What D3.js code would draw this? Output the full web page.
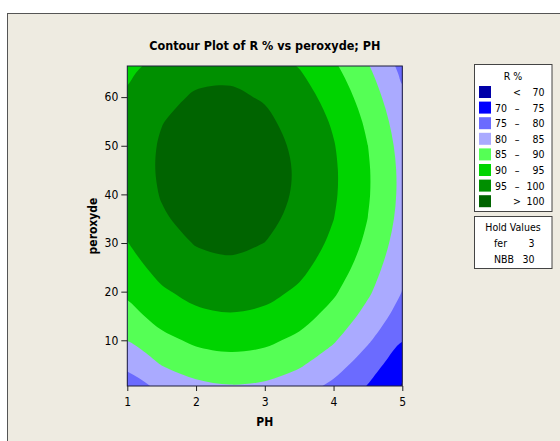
<!DOCTYPE html>
<html>
<head>
<meta charset="utf-8">
<script src="https://cdn.jsdelivr.net/npm/d3@7"></script>
<style>
  body { margin: 0; background: #fff; }
  svg { display: block; }
  text { font-family: "DejaVu Sans Condensed", "DejaVu Sans", sans-serif; fill: #000; }
</style>
</head>
<body>
<div id="chart"></div>
<script>

// grid of R %: columns = PH, rows = peroxyde
const phValues = [1, 1.5, 2, 2.5, 3, 3.5, 4, 4.5, 5];
const peroxydeValues = [0, 5, 10, 15, 20, 25, 30, 35, 40, 45, 50, 55, 60, 65, 70];
const rGrid = [
  [77.48, 80.80, 83.44, 84.31, 83.77, 81.81, 78.45, 74.40, 69.30],
  [81.00, 85.17, 87.39, 88.21, 87.62, 85.62, 82.20, 77.38, 72.00],
  [85.12, 88.71, 90.88, 91.65, 91.01, 88.96, 85.49, 80.62, 75.20],
  [88.25, 91.78, 93.91, 94.63, 93.94, 91.84, 88.33, 83.41, 77.80],
  [90.91, 94.40, 96.48, 97.15, 96.41, 94.26, 90.70, 85.73, 79.90],
  [93.12, 96.56, 98.59, 99.21, 98.42, 96.22, 92.61, 87.59, 81.16],
  [94.87, 98.26, 100.24, 100.81, 99.97, 97.72, 94.06, 88.99, 82.52],
  [96.16, 99.50, 101.43, 101.95, 101.06, 98.77, 95.06, 89.94, 83.41],
  [96.99, 100.28, 102.16, 102.63, 101.69, 99.35, 95.59, 90.42, 83.84],
  [97.35, 100.60, 102.43, 102.85, 101.87, 99.47, 95.66, 90.44, 83.82],
  [97.26, 100.46, 102.24, 102.61, 101.58, 99.13, 95.27, 90.01, 83.33],
  [96.71, 99.85, 101.59, 101.91, 100.83, 98.33, 94.43, 89.11, 82.39],
  [95.70, 98.79, 100.48, 100.75, 99.62, 97.07, 93.12, 87.75, 80.98],
  [94.23, 97.27, 98.91, 99.13, 97.95, 95.36, 91.35, 85.94, 79.11],
  [92.29, 95.29, 96.88, 97.05, 95.82, 93.18, 89.12, 83.66, 76.79]
];

const levels = [70, 75, 80, 85, 90, 95, 100];
const levelColors = ["#0000a8", "#0000ff", "#6b6bff", "#aaaaff", "#55ff55", "#00d400", "#008f00", "#006400"];
const legendFrom = ["", "70", "75", "80", "85", "90", "95", ""];
const legendSign = ["<", "\u2013", "\u2013", "\u2013", "\u2013", "\u2013", "\u2013", ">"];
const legendTo = ["70", "75", "80", "85", "90", "95", "100", "100"];
const holdNames = ["fer", "NBB"];
const holdValues = [3, 30];
const xTicks = [1, 2, 3, 4, 5];
const yTicks = [10, 20, 30, 40, 50, 60];

const width = 560, height = 441;
const pLeft = 127.3, pRight = 402.3, pTop = 66, pBottom = 386;

const svg = d3.select('#chart').append('svg')
    .attr('width', width)
    .attr('height', height);

// panel background
svg.append('rect')
    .attr('x', 7.5).attr('y', 13.5)
    .attr('width', 620).attr('height', 500)
    .attr('fill', '#eeebe1')
    .attr('stroke', '#555');

var x = d3.scaleLinear().domain([1, 5]).range([pLeft, pRight]);
var y = d3.scaleLinear().domain([0.6, 66.4]).range([pBottom, pTop]);

svg.append('clipPath').attr('id', 'plotclip')
  .append('rect')
    .attr('x', pLeft).attr('y', pTop)
    .attr('width', pRight - pLeft).attr('height', pBottom - pTop);

const nx = phValues.length, ny = peroxydeValues.length;
const dPh = phValues[1] - phValues[0];
const dPer = peroxydeValues[1] - peroxydeValues[0];

// grid cell i sits at i + 0.5 in d3.contours space
function toChart(p) {
  return [x(phValues[0] + (p[0] - 0.5) * dPh), y(peroxydeValues[0] + (p[1] - 0.5) * dPer)];
}
const ringLine = d3.line().curve(d3.curveCatmullRomClosed.alpha(0.5));
function bandPath(c) {
  return c.coordinates.map(function(poly) {
    return poly.map(function(ring) {
      return ringLine(ring.slice(0, -1).map(toChart));
    }).join('');
  }).join('');
}

const bands = d3.contours()
    .size([nx, ny])
    .thresholds(levels)(rGrid.flat());

const plot = svg.append('g').attr('clip-path', 'url(#plotclip)');

plot.append('rect')
    .attr('x', pLeft).attr('y', pTop)
    .attr('width', pRight - pLeft).attr('height', pBottom - pTop)
    .attr('fill', levelColors[0]);

plot.selectAll('path.band')
    .data(bands)
    .enter()
    .append('path')
    .attr('class', 'band')
    .attr('d', bandPath)
    .attr('fill', function(d, i) { return levelColors[i + 1]; })
    .attr('fill-rule', 'evenodd');

svg.append('rect')
    .attr('x', pLeft).attr('y', pTop)
    .attr('width', pRight - pLeft).attr('height', pBottom - pTop)
    .attr('fill', 'none')
    .attr('stroke', '#1e1e3c');

// axes
const xAxis = svg.append('g')
    .attr('transform', 'translate(0,' + pBottom + ')')
    .call(d3.axisBottom(x).tickValues(xTicks).tickSize(5).tickPadding(6).tickFormat(d3.format('d')));
const yAxis = svg.append('g')
    .attr('transform', 'translate(' + pLeft + ',0)')
    .call(d3.axisLeft(y).tickValues(yTicks).tickSize(6).tickPadding(3).tickFormat(d3.format('d')));

[xAxis, yAxis].forEach(function(g) {
  g.select('.domain').remove();
  g.selectAll('line').attr('stroke', '#222');
  g.selectAll('text')
    .attr('font-family', '"DejaVu Sans Condensed", "DejaVu Sans", sans-serif')
    .attr('font-size', 12)
    .attr('fill', '#111');
});

// titles
svg.append('text')
    .attr('x', (pLeft + pRight) / 2).attr('y', 50)
    .attr('text-anchor', 'middle')
    .attr('font-weight', 'bold')
    .attr('font-size', 12.5)
    .text('Contour Plot of R % vs peroxyde; PH');

svg.append('text')
    .attr('x', (pLeft + pRight) / 2).attr('y', 426)
    .attr('text-anchor', 'middle')
    .attr('font-weight', 'bold')
    .attr('font-size', 12)
    .text('PH');

svg.append('text')
    .attr('transform', 'translate(97,' + ((pTop + pBottom) / 2) + ') rotate(-90)')
    .attr('text-anchor', 'middle')
    .attr('font-weight', 'bold')
    .attr('font-size', 12)
    .text('peroxyde');

// legend
const lg = svg.append('g');
lg.append('rect')
    .attr('x', 474.5).attr('y', 64.5)
    .attr('width', 77.5).attr('height', 147)
    .attr('fill', '#fff')
    .attr('stroke', '#444');
lg.append('text')
    .attr('x', 513).attr('y', 79.5)
    .attr('text-anchor', 'middle')
    .attr('font-size', 10.5)
    .text('R %');

const rows = lg.selectAll('g.row')
    .data(levelColors)
    .enter()
    .append('g')
    .attr('class', 'row')
    .attr('transform', function(d, i) { return 'translate(0,' + (92 + i * 15.6) + ')'; });

rows.append('rect')
    .attr('x', 479).attr('y', -6)
    .attr('width', 12).attr('height', 12)
    .attr('fill', function(d) { return d; });
rows.append('text')
    .attr('x', 507).attr('y', 4)
    .attr('text-anchor', 'end')
    .attr('font-size', 10.5)
    .text(function(d, i) { return legendFrom[i]; });
rows.append('text')
    .attr('x', 517).attr('y', 4)
    .attr('text-anchor', 'middle')
    .attr('font-size', 10.5)
    .text(function(d, i) { return legendSign[i]; });
rows.append('text')
    .attr('x', 544.5).attr('y', 4)
    .attr('text-anchor', 'end')
    .attr('font-size', 10.5)
    .text(function(d, i) { return legendTo[i]; });

// hold values box
const hv = svg.append('g');
hv.append('rect')
    .attr('x', 474.5).attr('y', 216.5)
    .attr('width', 77.5).attr('height', 52)
    .attr('fill', '#fff')
    .attr('stroke', '#444');
hv.append('text')
    .attr('x', 513).attr('y', 230.5)
    .attr('text-anchor', 'middle')
    .attr('font-size', 10.5)
    .text('Hold Values');
holdNames.forEach(function(name, i) {
  hv.append('text')
      .attr('x', 494).attr('y', 247 + i * 15.8)
      .attr('font-size', 10.5)
      .text(name);
  hv.append('text')
      .attr('x', 534.5).attr('y', 247 + i * 15.8)
      .attr('text-anchor', 'end')
      .attr('font-size', 10.5)
      .text(holdValues[i]);
});

</script>
</body>
</html>
